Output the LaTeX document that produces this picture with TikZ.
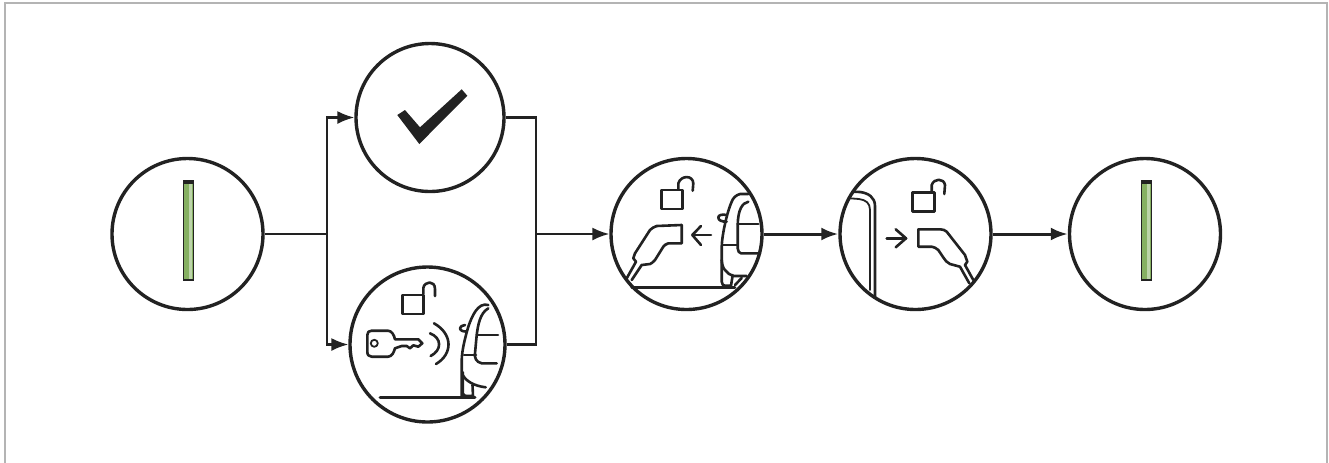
\documentclass[tikz,border=0pt]{standalone}
\usetikzlibrary{arrows.meta}
\tikzset{
  x=0.5pt,y=-0.5pt,
  disc/.style={circle,draw=ink,line width=1.7pt,inner sep=0pt,minimum size=#1*0.5pt,fill=white},
  wire/.style={draw=ink,line width=1.05pt},
  wirearrow/.style={wire,-{Latex[length=8.5pt,width=6.5pt]}},
  boldarrow/.style={draw=ink,line width=1.5pt,-{Latex[length=8.5pt,width=6.5pt]}},
  icon/.style={draw=ink,line width=1.3pt,line join=round,line cap=round,fill=none},
  thinicon/.style={draw=ink,line width=0.9pt,line join=round,line cap=round,fill=none},
}
\definecolor{ink}{HTML}{222222}
\definecolor{framegray}{HTML}{B4B4B4}
\definecolor{ledgreen}{HTML}{86B062}
\begin{document}
\begin{tikzpicture}
\useasboundingbox (0,0) rectangle (1329,462);
\fill[white] (0,0) rectangle (1329,462);
\draw[framegray,line width=1pt] (4.5,470) -- (4.5,2.5) -- (1327,2.5) -- (1327,470);
% nodes
\node[disc=151] (ledA) at (187.5,234) {};
\node[disc=148] (okay) at (430,117.5) {};
\node[disc=155] (keyc) at (427.5,344.5) {};
\node[disc=151] (plugin) at (686.5,234) {};
\node[disc=151] (plugout) at (915.5,234) {};
\node[disc=151] (ledB) at (1145,234) {};
\coordinate (split) at (327,234);
\coordinate (splitT) at (327,117.5);
\coordinate (splitB) at (327,344.5);
\coordinate (joinT) at (536,117.5);
\coordinate (joinB) at (536,344.5);
\coordinate (join) at (536,234);
% connectors
\draw[wire] (ledA.east) -- (split);
\draw[wire,line cap=rect] (splitB) -- (splitT);
\draw[wirearrow] (splitT) -- (okay.west);
\draw[wirearrow] (splitB) -- (keyc.west);
\draw[wire,line join=miter] (okay.east) -- (joinT) -- (joinB) -- (keyc.east);
\draw[wirearrow] (join) -- (plugin.west);
\draw[boldarrow] (plugin.east) -- (plugout.west);
\draw[boldarrow] (plugout.east) -- (ledB.west);
% LED bars
\foreach \cx in {188.8,1146.5}{
  \fill[ledgreen] (\cx-5,181) rectangle (\cx+5,279);
  \fill[ledgreen!55!white] (\cx,183) rectangle (\cx+3,279);
  \draw[ink,line width=0.6pt] (\cx-5,181) -- (\cx-5,280) -- (\cx+5,280) -- (\cx+5,181);
  \fill[ink] (\cx-5.5,180) rectangle (\cx+5.5,183.5);
}
% check mark
\fill[ink] (397.3,115) -- (405,110) -- (420,127.3) -- (461.7,89.3) -- (467.3,95.7) -- (419.3,144) -- cycle;
% key circle icon: padlock
\draw[icon] (402.3,295) rectangle (423.3,314);
\draw[icon] (423.3,294) -- (423.3,288) .. controls (424.5,281) and (435,280) .. (435,289) -- (435,296);
% key
\draw[icon] (367.3,335) .. controls (367.3,332) and (369,330.7) .. (371.7,330.7) -- (388,330.7)
  .. controls (392,331) and (394,335) .. (395,339.3) -- (418.3,339.3) -- (422.3,343.3) -- (418.3,346.7) -- (413.3,345.3) -- (410,348.3) -- (406.7,346) -- (401.7,346) -- (395,348.3)
  .. controls (394,352) and (392,356.7) .. (388,356.7) -- (371.7,356.7) .. controls (369,356.7) and (367.3,355) .. (367.3,351.7) -- cycle;
\draw[thinicon] (374.3,343.3) circle[radius=3.5];
% signal waves
\draw[icon] (430,333.3) .. controls (442,338) and (442,350) .. (430.7,356);
\draw[icon] (434,323.3) .. controls (453,334) and (453,354) .. (436,364);
% ground
\draw[icon,line width=1.5pt] (380,397.3) -- (475,397.3);
% car front
\draw[icon] (488.3,305) .. controls (478,302) and (472,316) .. (468.3,326.7) .. controls (465,338) and (462,350) .. (461.7,360) -- (461.7,396);
\draw[icon] (488.3,308.3) .. controls (480,313) and (478,325) .. (476.7,335) -- (475,353.3) .. controls (474.5,358) and (476,362) .. (481.7,363.3) -- (496.7,363.3);
\draw[icon] (477,335) -- (498,335);
\draw[icon] (464,355) -- (476,355);
\draw[icon] (462.7,375) .. controls (466,381) and (474,386) .. (485.7,387.3);
\draw[icon] (462.7,372) -- (462.7,393) .. controls (463,395.5) and (465,396) .. (467,396) -- (473,396) -- (472.5,385);
\draw[icon] (465,325) .. controls (461,326) and (460,327) .. (460,328.5) .. controls (460.5,331) and (464,331.7) .. (466.7,331.7);
% plugin icon: padlock
\draw[icon] (661.7,190) rectangle (682.7,209);
\draw[icon] (678.3,189.3) -- (678.3,183.3) .. controls (681,175) and (693,175) .. (693.3,183.3) -- (692.7,190.7);
% plug
\draw[icon] (681.7,225) -- (656.7,226) .. controls (654,227) and (652,228) .. (650,230) -- (635,253.3) -- (633.3,258.3) -- (636,261.7) -- (626.7,278.3);
\draw[icon] (681.7,225) -- (681.7,243.3) -- (668.3,243.3) .. controls (666,244) and (664,245.5) .. (663.3,246.7) -- (655,260) .. controls (653,262) and (651,264) .. (650,264) -- (641.7,265) -- (631.7,280);
% arrow
\draw[icon] (711,235) -- (692.3,235);
\draw[icon] (701,226) -- (692.3,235) -- (701,245);
% ground
\draw[icon] (631.7,287.3) -- (735,287.3);
% car
\draw[icon] (748.3,194) -- (740,194) .. controls (736,195) and (733,198) .. (731.7,201.7) .. controls (727,212) and (722,235) .. (721.7,246.7) -- (721.7,260) .. controls (722,266) and (724,269) .. (725,270) .. controls (727,273) and (730,275) .. (733.3,276) -- (746.7,276);
\draw[icon] (748.3,201.7) .. controls (742,203) and (738,210) .. (737.7,225) -- (737.7,248.3) .. controls (738,251) and (739,253.3) .. (741,253.3) -- (760,253.3);
\draw[icon] (737.7,224) -- (758.3,224);
\draw[icon] (723,245) -- (736.7,245);
\draw[icon] (721.7,260) -- (721.7,281.7) .. controls (722,284) and (723,285.7) .. (725,285.7) -- (731,285.7) -- (732.7,275);
\draw[icon] (726.7,215) .. controls (722,214) and (718.3,215) .. (718.3,217.5) .. controls (718.3,220.5) and (722,221.7) .. (726.7,221.7);
\draw[icon] (735,285) -- (741.7,278);
% plugout icon: wall
\draw[icon] (853.3,191.7) -- (860,192) .. controls (868,193) and (875,197) .. (875,206) -- (875,296.7);
\draw[thinicon] (850,198.3) -- (859,199) .. controls (866,200) and (870,203) .. (870,210) -- (870,290);
% padlock
\draw[icon] (912.7,192.3) rectangle (934.3,211.7);
\draw[icon] (931.7,191.7) -- (931.7,185) .. controls (934,178) and (944,178) .. (945,185) -- (944.3,194);
% arrow
\draw[icon] (886.7,238.3) -- (906,238.3);
\draw[icon] (895.7,229.3) -- (906,238.3) -- (895.7,247.3);
% plug
\draw[icon] (918.3,229.3) -- (940,229.3) .. controls (943,229.5) and (945,230) .. (946.7,231.7) -- (965,255) -- (967.3,261.7) -- (965,265) -- (973.3,280);
\draw[icon] (918.3,229.3) -- (918.3,246.7) -- (931.7,246.7) .. controls (934,247) and (936,248) .. (938.3,250) -- (943,257) .. controls (945,260) and (947,263) .. (950,264) -- (960,266.7) -- (969.3,283.3);
\end{tikzpicture}
\end{document}
